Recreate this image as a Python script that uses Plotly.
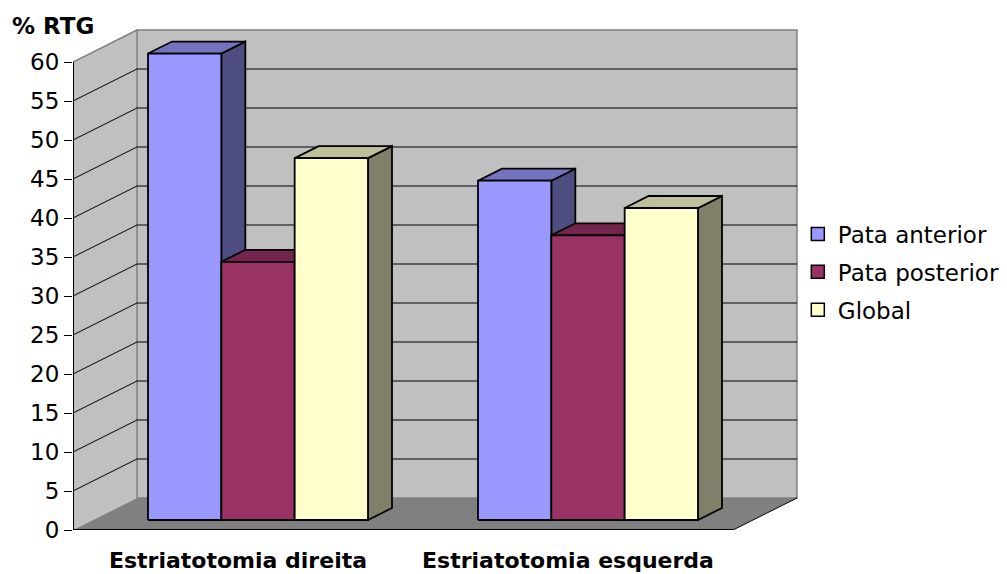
import plotly.graph_objects as go

# ---- data ----
categories = ["Estriatotomia direita", "Estriatotomia esquerda"]
series_names = ["Pata anterior", "Pata posterior", "Global"]
pata_anterior = [59.8, 43.5]
pata_posterior = [33.1, 36.5]
global_rtg = [46.4, 40.0]
y_ticks = [0, 5, 10, 15, 20, 25, 30, 35, 40, 45, 50, 55, 60]

series_values = [pata_anterior, pata_posterior, global_rtg]

# face colours per series: front, top, side
face_colors = [
    ("#9999FF", "#7373BF", "#4D4D80"),
    ("#993366", "#73264D", "#4D1A33"),
    ("#FFFFCC", "#BFBF99", "#80806A"),
]

# ---- layout geometry ----
W, H = 1007, 574
M_L, M_R, M_T, M_B = 73, 207, 28, 44
PX_CAT = 330.0   # pixels per category on the front plane
PX_VAL = 7.8     # pixels per percentage point
X_RANGE = [0, (W - M_L - M_R) / PX_CAT]
Y_RANGE = [0, (H - M_T - M_B) / PX_VAL]

# oblique depth of the 3-D box, expressed in axis units
DX = 64 / PX_CAT
DY = 32 / PX_VAL
Y_TOP = y_ticks[-1]
N_CAT = len(categories)
BAR_FRONT, BAR_BACK = 0.3125, 0.6875   # depth fractions of the bar faces
BAR_W = 2 / 9
GROUP_PAD = 1 / 6

FONT = "DejaVu Sans, Arial, sans-serif"
WALL = "#C0C0C0"
WALL_EDGE = "#808080"
FLOOR = "#808080"


def path(points):
    return "M " + " L ".join(f"{x},{y}" for x, y in points) + " Z"


shapes = []
# left wall
shapes.append(dict(type="path", xref="x", yref="y", layer="below",
                   path=path([(0, 0), (0, Y_TOP), (DX, Y_TOP + DY), (DX, DY)]),
                   fillcolor=WALL, line=dict(width=0)))
# back wall
shapes.append(dict(type="rect", xref="x", yref="y", layer="below",
                   x0=DX, x1=N_CAT + DX, y0=DY, y1=Y_TOP + DY,
                   fillcolor=WALL, line=dict(color=WALL_EDGE, width=1.5)))
# left wall top edge
shapes.append(dict(type="line", xref="x", yref="y", layer="below",
                   x0=0, y0=Y_TOP, x1=DX, y1=Y_TOP + DY,
                   line=dict(color=WALL_EDGE, width=1.5)))
# gridlines on both walls
for v in y_ticks[1:-1]:
    shapes.append(dict(type="line", xref="x", yref="y", layer="below",
                       x0=0, y0=v, x1=DX, y1=v + DY,
                       line=dict(color="black", width=1)))
    shapes.append(dict(type="line", xref="x", yref="y", layer="below",
                       x0=DX, y0=v + DY, x1=N_CAT + DX, y1=v + DY,
                       line=dict(color="black", width=1)))
# floor
shapes.append(dict(type="path", xref="x", yref="y", layer="below",
                   path=path([(0, 0), (N_CAT, 0), (N_CAT + DX, DY), (DX, DY)]),
                   fillcolor=FLOOR, line=dict(width=0)))
shapes.append(dict(type="line", xref="x", yref="y", layer="below",
                   x0=N_CAT, y0=0, x1=N_CAT + DX, y1=DY,
                   line=dict(color="black", width=1)))

fig = go.Figure()


def face(xs, ys, color):
    fig.add_trace(go.Scatter(
        x=xs + xs[:1], y=ys + ys[:1], mode="lines", fill="toself",
        fillcolor=color, line=dict(color="black", width=1.8),
        hoverinfo="skip", showlegend=False))


fx, fy = BAR_FRONT * DX, BAR_FRONT * DY
bx, by = BAR_BACK * DX, BAR_BACK * DY
for i in range(N_CAT):
    for k, values in enumerate(series_values):
        v = values[i]
        front_c, top_c, side_c = face_colors[k]
        x0 = i + GROUP_PAD + k * BAR_W
        x1 = x0 + BAR_W
        # side face
        face([x1 + fx, x1 + bx, x1 + bx, x1 + fx],
             [fy, by, v + by, v + fy], side_c)
        # top face
        face([x0 + fx, x1 + fx, x1 + bx, x0 + bx],
             [v + fy, v + fy, v + by, v + by], top_c)
        # front face
        face([x0 + fx, x1 + fx, x1 + fx, x0 + fx],
             [fy, fy, v + fy, v + fy], front_c)

# axis lines of the front plane
fig.add_trace(go.Scatter(x=[0, 0], y=[0, Y_TOP], mode="lines",
                         line=dict(color="black", width=2),
                         hoverinfo="skip", showlegend=False))
fig.add_trace(go.Scatter(x=[0, N_CAT], y=[0, 0], mode="lines",
                         line=dict(color="black", width=2),
                         hoverinfo="skip", showlegend=False))

# legend entries
for k, name in enumerate(series_names):
    fig.add_trace(go.Scatter(
        x=[None], y=[None], mode="markers", name=name, legendgroup=name,
        marker=dict(symbol="square", size=13, color=face_colors[k][0],
                    line=dict(color="black", width=1.5))))

fig.update_layout(
    width=W, height=H,
    margin=dict(l=M_L, r=M_R, t=M_T, b=M_B, pad=0, autoexpand=False),
    paper_bgcolor="white", plot_bgcolor="white",
    font=dict(family=FONT, color="black"),
    shapes=shapes,
    showlegend=True,
    legend=dict(x=0.997, xanchor="left", y=0.514, yanchor="middle",
                font=dict(family=FONT, size=23, color="black"),
                traceorder="grouped", tracegroupgap=5,
                bgcolor="rgba(0,0,0,0)", borderwidth=0),
    xaxis=dict(range=X_RANGE, showgrid=False, zeroline=False, showline=False,
               tickvals=[i + 0.5 for i in range(N_CAT)], ticktext=categories,
               ticks="", tickfont=dict(family=FONT, size=22, weight="bold"),
               ticklabelstandoff=15, automargin=False, fixedrange=True),
    xaxis2=dict(range=X_RANGE, overlaying="x", anchor="y", side="bottom",
                showgrid=False, zeroline=False, showline=False,
                tickvals=list(range(N_CAT + 1)), ticks="outside", ticklen=8,
                tickcolor="black", tickwidth=1, showticklabels=False,
                automargin=False, fixedrange=True),
    yaxis=dict(range=Y_RANGE, showgrid=False, zeroline=False, showline=False,
               tickvals=y_ticks, ticks="outside", ticklen=8, tickcolor="black",
               tickwidth=1, tickfont=dict(family=FONT, size=23),
               automargin=False, fixedrange=True),
    annotations=[dict(text="<b>% RTG</b>", xref="paper", yref="paper",
                      x=(10 - M_L) / (W - M_L - M_R), xanchor="left",
                      y=(H - M_B - 26) / (H - M_T - M_B), yanchor="middle",
                      showarrow=False, font=dict(family=FONT, size=23))],
)

fig.write_html("out.html")
